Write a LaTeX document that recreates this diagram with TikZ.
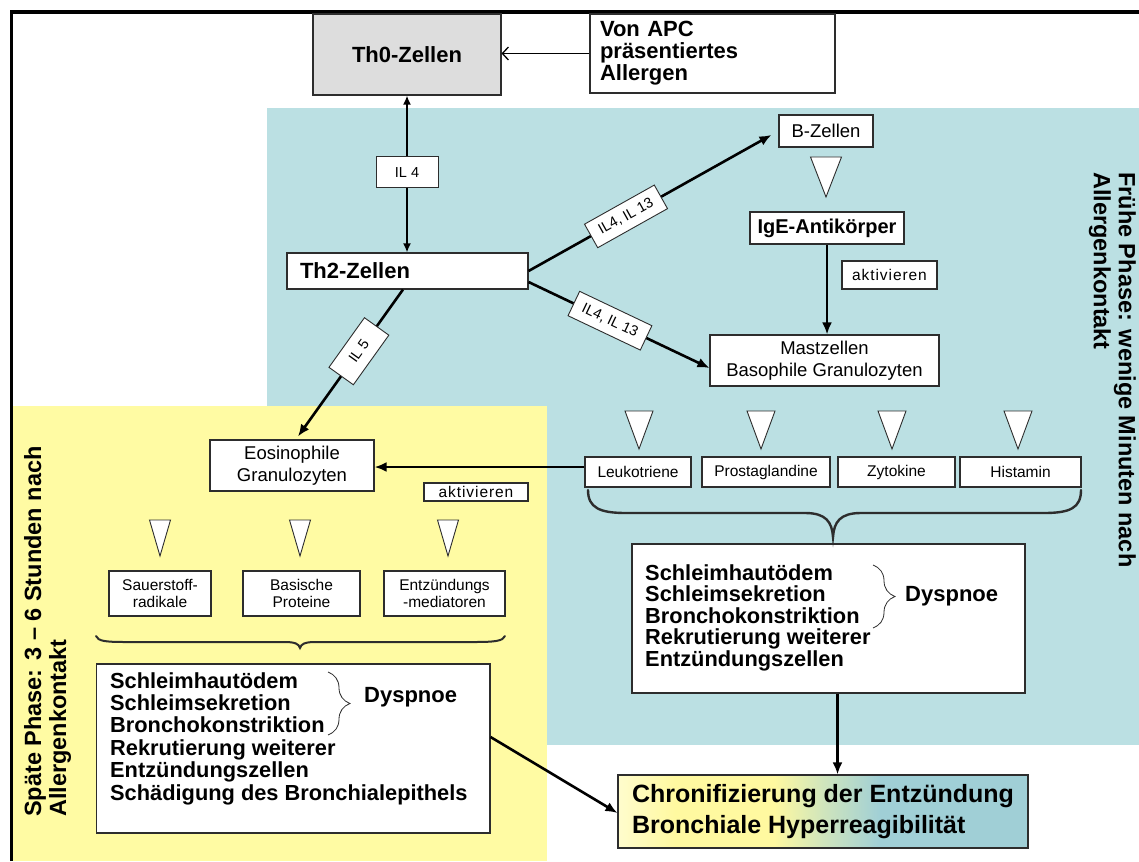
\documentclass[tikz,border=0pt]{standalone}
\usepackage{fontspec}
\setmainfont{Liberation Sans}
\usetikzlibrary{arrows.meta,decorations.pathreplacing}

\definecolor{tealbg}{RGB}{187,224,227}
\definecolor{yellowbg}{RGB}{255,251,163}
\definecolor{thgray}{RGB}{221,221,221}
\definecolor{edgec}{RGB}{45,45,45}
\definecolor{chlight}{RGB}{255,252,205}
\definecolor{chyel}{RGB}{255,249,160}
\definecolor{chgreen}{RGB}{208,229,188}
\definecolor{chteal}{RGB}{160,207,214}

% yellow -> teal fill of the outcome box
\pgfdeclarehorizontalshading{chronshade}{100bp}{color(0bp)=(chlight); color(25bp)=(chlight); color(32bp)=(chyel); color(44bp)=(chyel); color(50bp)=(chgreen); color(57bp)=(chteal); color(100bp)=(chteal)}

\newcommand\setfs[2]{\fontsize{#1}{#2}\selectfont}
% downward pointing triangle: centre x, top y, width, height
\newcommand\dtri[4]{\draw[tri] (#1-#3/2,#2) -- (#1+#3/2,#2) -- (#1,#2+#4) -- cycle;}

\tikzset{
  cbox/.style={draw=edgec, line width=1.1pt, fill=white, inner sep=0pt},
  ilbox/.style={draw=edgec, line width=0.9pt, fill=white, inner sep=0pt, font=\setfs{14.5}{16}},
  titletxt/.style={font=\bfseries\setfs{22}{22}},
  regtxt/.style={font=\setfs{18.5}{21.5}},
  smalltxt/.style={font=\setfs{15.5}{17}},
  akttxt/.style={font=\setfs{15.5}{17}\addfontfeature{LetterSpace=6}},
  listtxt/.style={font=\bfseries\setfs{21.8}{21.5}, align=left, inner sep=0pt, anchor=north west},
  phasetxt/.style={font=\bfseries\setfs{23.5}{25}, align=left, inner sep=0pt, anchor=north west},
  arr/.style={line width=2.6pt, -{Latex[length=12pt,width=10pt]}},
  dblarr/.style={line width=2.2pt, {Latex[length=9pt,width=8pt]}-{Latex[length=9pt,width=8pt]}},
  thinarr/.style={line width=1.3pt, -{Straight Barb[length=6pt,width=13pt,line width=1.3pt]}},
  tri/.style={draw=edgec, line width=0.9pt, fill=white, line join=miter},
  bigbrace/.style={line width=2.4pt, edgec, line cap=round},
  smallbrace/.style={draw=edgec, line width=0.8pt, decorate, decoration={brace, amplitude=22pt}},
}

\begin{document}
\begin{tikzpicture}[x=1pt, y=-1pt]
\useasboundingbox (0,0) rectangle (1139,861);

% phase backgrounds
\fill[tealbg] (267,108) rectangle (1139,745);
\fill[yellowbg] (12,406) rectangle (547,861);

% outer frame
\draw[line width=3.6pt, line join=miter] (11.5,861) -- (11.5,12) -- (1139,12);

% top row
\node[cbox, fill=thgray, minimum width=188pt, minimum height=81pt, titletxt] (th0) at (407,54.5) {Th0-Zellen};
\node[cbox, minimum height=79pt, text width=225pt, inner xsep=10pt, align=left, titletxt] (apc) at (712.5,53.5) {Von APC\\präsentiertes\\Allergen};

% T cells
\node[cbox, minimum height=36pt, text width=215pt, inner xsep=13pt, align=left, titletxt] (th2) at (407.5,271) {Th2-Zellen};

% early phase chain
\node[cbox, minimum width=94pt, minimum height=32pt, regtxt] (bz) at (826,131) {B-Zellen};
\node[cbox, minimum width=154pt, minimum height=32pt, font=\bfseries\setfs{20}{22}] (ige) at (827,228) {IgE-Antikörper};
\node[cbox, minimum width=95pt, minimum height=28pt, akttxt] (akt1) at (889.5,275) {aktivieren};
\node[cbox, minimum width=229pt, minimum height=51pt, align=center, regtxt] (mast) at (824.5,360.5) {Mastzellen\\Basophile Granulozyten};

\node[cbox, minimum width=106pt, minimum height=30pt, smalltxt] (leuko) at (638,472) {Leukotriene};
\node[cbox, minimum width=128pt, minimum height=30pt, smalltxt] (prosta) at (766,472) {Prostaglandine};
\node[cbox, minimum width=117pt, minimum height=30pt, smalltxt] (zyto) at (896.5,472) {Zytokine};
\node[cbox, minimum width=121pt, minimum height=30pt, smalltxt] (hist) at (1020.5,472) {Histamin};

\node[cbox, minimum width=393pt, minimum height=149pt] (early) at (828.5,618.5) {};
\node[listtxt] (earlylist) at (645,564) {Schleimhautödem\\Schleimsekretion\\Bronchokonstriktion\\Rekrutierung weiterer\\Entzündungszellen};
\node[titletxt, anchor=west, inner sep=0pt] (dys1) at (905,596) {Dyspnoe};

% late phase chain
\node[cbox, minimum width=164pt, minimum height=51pt, align=center, regtxt] (eos) at (292,465.5) {Eosinophile\\Granulozyten};
\node[cbox, minimum width=104pt, minimum height=18pt, akttxt] (akt2) at (476,492) {aktivieren};

\node[cbox, minimum width=102pt, minimum height=45pt, align=center, smalltxt] (sauer) at (160,593.5) {Sauerstoff-\\radikale};
\node[cbox, minimum width=117pt, minimum height=45pt, align=center, smalltxt] (basisch) at (301.5,593.5) {Basische\\Proteine};
\node[cbox, minimum width=121pt, minimum height=45pt, align=center, smalltxt] (entz) at (444.5,593.5) {Entzündungs\\-mediatoren};

\node[cbox, minimum width=393.5pt, minimum height=169pt] (late) at (293.25,748.5) {};
\node[listtxt, font=\bfseries\setfs{21.8}{22.4}] (latelist) at (110,672) {Schleimhautödem\\Schleimsekretion\\Bronchokonstriktion\\Rekrutierung weiterer\\Entzündungszellen\\Schädigung des Bronchialepithels};
\node[titletxt, anchor=west, inner sep=0pt] (dys2) at (364,697) {Dyspnoe};

% outcome
\node[draw=edgec, line width=1.1pt, shading=chronshade, inner sep=0pt, minimum width=410pt, minimum height=73pt, align=left, font=\bfseries\setfs{25}{31}] (chron) at (823,811.5) {Chronifizierung der Entzündung\\Bronchiale Hyperreagibilität};

% phase captions
\node[phasetxt, rotate=-90] (earlyphase) at (1136,172) {Frühe Phase: wenige Minuten nach\\Allergenkontakt};
\node[phasetxt, rotate=90] (latephase) at (24,817) {Späte Phase: 3 – 6 Stunden nach\\Allergenkontakt};

% connectors
\draw[thinarr] (apc.west) -- (apc.west -| th0.east);
\draw[dblarr] (th0.south) -- (th0.south |- th2.north)
  node[ilbox, pos=0.49, minimum width=62pt, minimum height=31pt] (il4) {IL 4};
\draw[arr, shorten >=8pt] (th2.east) -- (bz.west)
  node[ilbox, sloped, pos=0.39, minimum width=80pt, minimum height=27pt] (il413a) {IL4, IL 13};
\draw[arr] ([yshift=-11pt]th2.east) -- ([yshift=-7.5pt]mast.west)
  node[ilbox, sloped, pos=0.45, minimum width=80pt, minimum height=27pt] (il413b) {IL4, IL 13};
\draw[arr] ([xshift=-4.5pt]th2.south) -- ([xshift=6pt,yshift=3pt]eos.north)
  node[ilbox, sloped, pos=0.42, minimum width=61pt, minimum height=30pt] (il5) {IL 5};
\draw[arr] (ige.south) -- (ige.south |- mast.north);
\draw[arr] ([yshift=5pt]leuko.west) -- ([yshift=5pt]leuko.west -| eos.east);
\draw[arr] ([xshift=9pt]early.south) -- ([xshift=9pt]early.south |- chron.north);
\draw[arr] ([yshift=11.5pt]late.east) -- ([yshift=-1.5pt]chron.west);

% release triangles
\dtri{826}{157}{31}{40}
\dtri{639}{411}{28}{38}
\dtri{761}{411}{28}{38}
\dtri{892}{411}{28}{38}
\dtri{1018}{411}{28}{38}
\dtri{160}{520}{21}{36}
\dtri{300}{520}{21}{36}
\dtri{448}{520}{21}{36}

% grouping braces
\draw[bigbrace] (588,490) .. controls (588,508) and (600,513) .. (626,513) -- (805,513)
  .. controls (826,513) and (832,522) .. (833,537)
  .. controls (834,522) and (840,513) .. (861,513) -- (1044,513)
  .. controls (1070,513) and (1081,508) .. (1081,490);
\draw[bigbrace, line width=2pt] (96,636) .. controls (98,641) and (105,642) .. (125,642) -- (285,642)
  .. controls (295,642) and (299,644) .. (300,648)
  .. controls (301,644) and (305,642) .. (315,642) -- (475,642)
  .. controls (495,642) and (503,641) .. (505,636);
\draw[smallbrace] (873,565) -- (873,628);
\draw[smallbrace] (328,672) -- (328,735);
\end{tikzpicture}
\end{document}
